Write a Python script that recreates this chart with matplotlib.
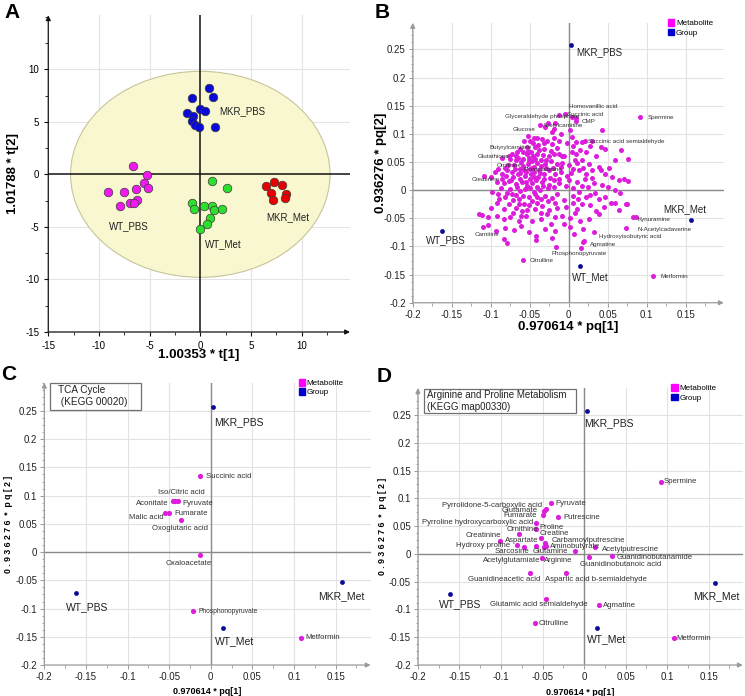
import matplotlib
matplotlib.use('Agg')
import matplotlib.pyplot as plt
from matplotlib.patches import Ellipse, Rectangle, Patch
from matplotlib.ticker import MultipleLocator, FuncFormatter

plt.rcParams['font.family'] = ['Liberation Sans', 'DejaVu Sans']
plt.rcParams['axes.unicode_minus'] = False

# ============================================================
# PANEL A - PCA scores, 1.00353*t[1] vs 1.01788*t[2]
# ============================================================
A_GROUPS = ["MKR_PBS", "WT_PBS", "WT_Met", "MKR_Met"]
A_COLORS = ["#0a0ad8", "#f01af0", "#2ee02e", "#e80000"]

mkr_pbs_t = [(0.82, 8.22), (-0.82, 7.26), (1.22, 7.32), (-0.07, 6.24), (0.49, 6.02),
             (-1.32, 5.86), (-0.72, 5.54), (-0.82, 5.06), (-0.49, 4.71), (-0.16, 4.49),
             (1.48, 4.49)]
wt_pbs_t = [(-6.68, 0.83), (-5.26, -0.06), (-5.53, -0.86), (-5.16, -1.34), (-6.35, -1.40),
            (-9.11, -1.66), (-7.57, -1.66), (-6.25, -2.45), (-6.97, -2.74), (-6.58, -2.74),
            (-7.96, -3.06)]
wt_met_t = [(1.15, -0.61), (2.63, -1.34), (-0.79, -2.68), (-0.59, -3.31), (0.33, -3.06),
            (1.15, -2.99), (1.32, -3.41), (2.14, -3.31), (0.99, -4.11), (0.66, -4.68),
            (-0.07, -5.16)]
mkr_met_t = [(6.51, -1.08), (7.30, -0.76), (8.06, -0.99), (7.01, -1.78), (8.42, -1.88),
             (7.17, -2.42), (8.32, -2.26)]
A_POINTS = [mkr_pbs_t, wt_pbs_t, wt_met_t, mkr_met_t]
A_LABEL_POS = [(1.9, 6.0), (-9.05, -4.9), (0.43, -6.66), (6.5, -4.04)]

# ============================================================
# PANELS B-D - loadings / group scores (pq[1] vs pq[2])
# ============================================================
GROUP_NAMES = ["MKR_PBS", "WT_PBS", "MKR_Met", "WT_Met"]
GROUP_PQ = [(0.003, 0.257), (-0.162, -0.072), (0.157, -0.053), (0.015, -0.134)]

# all metabolites (panel B)
cloud_pts = [
    (-0.013, 0.134), (-0.005, 0.136), (0.004, 0.130), (0.010, 0.129), (0.010, 0.123),
    (-0.026, 0.119), (-0.018, 0.120),
    (-0.037, 0.116), (-0.030, 0.112), (-0.021, 0.103), (-0.010, 0.100), (0.002, 0.106),
    (0.043, 0.107), (-0.019, 0.109),
    (-0.052, 0.097), (-0.044, 0.092), (-0.040, 0.092), (-0.034, 0.091), (-0.028, 0.088),
    (-0.019, 0.093), (-0.012, 0.088), (-0.002, 0.083), (0.004, 0.094), (0.010, 0.085),
    (0.017, 0.085), (0.021, 0.088), (0.030, 0.087), (0.005, 0.079),
    (-0.062, 0.073), (-0.052, 0.070), (-0.048, 0.067), (-0.043, 0.076), (-0.038, 0.071),
    (-0.032, 0.073), (-0.023, 0.069), (-0.019, 0.064), (-0.013, 0.065), (-0.006, 0.061),
    (0.004, 0.067), (0.010, 0.064), (0.015, 0.071), (0.022, 0.067), (0.041, 0.076),
    (0.047, 0.074), (0.067, 0.071), (-0.073, 0.064), (-0.067, 0.061),
    (-0.085, 0.057), (-0.075, 0.055), (-0.068, 0.054), (-0.058, 0.055), (-0.051, 0.058),
    (-0.047, 0.052), (-0.040, 0.049), (-0.036, 0.054), (-0.030, 0.046), (-0.022, 0.051),
    (-0.015, 0.046), (-0.008, 0.049), (0.000, 0.044), (0.011, 0.048), (0.017, 0.054),
    (0.026, 0.046), (0.039, 0.042), (0.060, 0.054), (0.076, 0.055),
    (-0.090, 0.038), (-0.079, 0.035), (-0.073, 0.032), (-0.062, 0.038), (-0.055, 0.033),
    (-0.049, 0.038), (-0.045, 0.032), (-0.038, 0.035), (-0.032, 0.029), (-0.025, 0.035),
    (-0.017, 0.029), (-0.010, 0.032), (-0.002, 0.026), (0.005, 0.038), (0.013, 0.035),
    (0.022, 0.029), (0.030, 0.035), (0.041, 0.036), (0.047, 0.029), (0.056, 0.023),
    (0.071, 0.020), (0.076, 0.017),
    (-0.109, 0.026), (-0.099, 0.023), (-0.092, 0.014), (-0.083, 0.012), (-0.077, 0.017),
    (-0.068, 0.011), (-0.060, 0.014), (-0.053, 0.008), (-0.047, 0.012), (-0.040, 0.006),
    (-0.034, 0.014), (-0.025, 0.010), (-0.019, 0.005), (-0.013, 0.012), (-0.004, 0.008),
    (0.005, 0.004), (0.011, 0.014), (0.017, 0.008), (0.025, 0.005), (0.032, 0.012),
    (0.043, 0.010), (0.059, 0.001), (0.064, 0.018),
    (-0.098, -0.004), (-0.090, -0.007), (-0.081, -0.013), (-0.073, -0.007), (-0.064, -0.016),
    (-0.058, -0.010), (-0.051, -0.013), (-0.043, -0.007), (-0.036, -0.016), (-0.030, -0.010),
    (-0.021, -0.014), (-0.015, -0.007), (-0.006, -0.017), (0.005, -0.010), (0.013, -0.004),
    (0.022, -0.013), (0.028, -0.008), (0.039, -0.016), (0.047, -0.013),
    (-0.100, -0.031), (-0.092, -0.022), (-0.083, -0.034), (-0.077, -0.025), (-0.068, -0.031),
    (-0.060, -0.037), (-0.051, -0.026), (-0.043, -0.034), (-0.034, -0.028), (-0.025, -0.035),
    (-0.015, -0.031), (0.005, -0.023), (0.011, -0.033), (0.017, -0.025), (0.028, -0.026),
    (0.035, -0.037), (0.054, -0.022), (0.060, -0.022), (0.064, -0.035), (0.073, -0.025),
    (0.075, -0.024),
    (-0.115, -0.043), (-0.111, -0.044), (-0.103, -0.048), (-0.092, -0.045), (-0.083, -0.051),
    (-0.075, -0.047), (-0.064, -0.054), (-0.055, -0.045), (-0.047, -0.054), (-0.036, -0.051),
    (-0.028, -0.042), (-0.018, -0.048), (-0.008, -0.045), (0.002, -0.050), (0.015, -0.054),
    (0.026, -0.051), (0.039, -0.042), (0.082, -0.047), (0.086, -0.048),
    (-0.110, -0.066), (-0.103, -0.061), (-0.093, -0.072), (-0.081, -0.067), (-0.070, -0.071),
    (-0.061, -0.063), (-0.051, -0.075), (-0.042, -0.081), (-0.030, -0.069), (-0.018, -0.072),
    (0.002, -0.066), (0.019, -0.069), (0.032, -0.075), (0.074, -0.068),
    (-0.083, -0.087), (-0.079, -0.093), (-0.042, -0.089), (-0.021, -0.085), (0.007, -0.078),
    (0.020, -0.090), (0.018, -0.092),
    (-0.016, -0.101), (0.016, -0.103), (-0.059, -0.124),
    (0.092, 0.130), (0.108, -0.152),
    (-0.070, 0.045), (-0.065, 0.028), (-0.062, 0.020), (-0.058, 0.043), (-0.056, 0.025),
    (-0.054, 0.064), (-0.052, 0.046), (-0.050, 0.020), (-0.048, 0.028), (-0.046, 0.060),
    (-0.044, 0.042), (-0.042, 0.018), (-0.041, 0.064), (-0.039, 0.024), (-0.037, 0.001),
    (-0.035, 0.043), (-0.033, 0.062), (-0.031, 0.019), (-0.029, 0.054), (-0.027, 0.003),
    (-0.056, 0.002), (-0.062, -0.002), (-0.066, 0.005), (-0.071, 0.024), (-0.075, 0.002),
    (-0.078, 0.045), (-0.080, 0.026), (-0.086, 0.028), (-0.087, 0.004), (-0.095, 0.032),
    (-0.057, -0.025), (-0.047, -0.020), (-0.040, -0.022), (-0.064, -0.024), (-0.071, -0.018),
    (-0.054, 0.076), (-0.046, 0.083), (-0.057, 0.087), (-0.061, 0.050), (-0.066, 0.067),
    (-0.049, 0.003), (-0.044, -0.003), (-0.024, 0.022), (-0.020, 0.040), (-0.012, 0.020),
    (-0.008, 0.060), (0.000, 0.018), (0.008, 0.053), (-0.003, -0.030), (0.008, -0.040),
    (0.021, 0.020), (0.030, 0.022), (0.034, -0.005), (0.045, -0.030), (0.050, 0.005),
    (0.052, 0.040), (0.066, -0.005), (0.035, 0.060), (0.028, 0.078),
    (-0.089, -0.015), (-0.085, 0.020), (-0.082, 0.040), (-0.079, -0.005), (-0.076, 0.060),
    (-0.074, 0.018), (-0.072, -0.040), (-0.069, 0.038), (-0.067, -0.008), (-0.065, 0.058),
    (-0.063, 0.031), (-0.061, -0.045), (-0.059, 0.068), (-0.057, 0.035), (-0.055, 0.014),
    (-0.053, -0.035), (-0.051, 0.052), (-0.049, 0.088), (-0.047, 0.040), (-0.045, 0.024),
    (-0.043, 0.055), (-0.041, -0.012), (-0.039, 0.080), (-0.037, 0.030), (-0.035, -0.040),
    (-0.033, 0.008), (-0.031, 0.084), (-0.029, 0.040), (-0.027, -0.020), (-0.025, 0.060),
    (-0.023, -0.060), (-0.021, 0.082), (-0.019, 0.018), (-0.017, -0.022), (-0.015, 0.075),
    (-0.010, 0.042), (-0.006, -0.060), (0.003, 0.030), (0.012, -0.015), (0.018, 0.040),
]

# TCA cycle metabolites (panel C)
tca_pts = {
    "Succinic acid": (-0.013, 0.134),
    "Aconitate": (-0.046, 0.091),
    "Iso/Citric acid": (-0.043, 0.091),
    "Pyruvate": (-0.040, 0.091),
    "Malic acid": (-0.055, 0.070),
    "Fumarate": (-0.050, 0.070),
    "Oxoglutaric acid": (-0.036, 0.057),
    "Oxaloacetate": (-0.013, -0.005),
    "Phosphonopyruvate": (-0.021, -0.104),
    "Metformin": (0.108, -0.152),
}

# Arginine and proline metabolites (panel D)
arg_pts = {
    "Pyrrolidone-5-carboxylic acid": (-0.0455, 0.080),
    "Pyruvate": (-0.040, 0.091),
    "Glutamate": (-0.048, 0.078),
    "Fumarate": (-0.050, 0.070),
    "Putrescine": (-0.032, 0.066),
    "Pyrroline hydroxycarboxylic acid": (-0.0575, 0.055),
    "Proline": (-0.058, 0.045),
    "Ornithine": (-0.078, 0.035),
    "Creatine": (-0.0515, 0.029),
    "Creatinine": (-0.1017, 0.024),
    "Aspartate": (-0.0475, 0.019),
    "Aminobutyrate": (-0.0455, 0.015),
    "Acetylglutamiate": (-0.0483, 0.012),
    "Glutamine": (-0.0575, 0.0148),
    "Hydroxy proline": (-0.081, 0.016),
    "Sarcosine": (-0.0724, 0.0119),
    "Carbamoylputrescine": (-0.0106, 0.0052),
    "Acetylputrescine": (0.0128, 0.0119),
    "Arginine": (-0.0507, -0.0068),
    "Guanidinobutanoic acid": (0.0055, -0.005),
    "Guanidinobutanamide": (0.0336, -0.0038),
    "Guanidineacetic acid": (-0.0652, -0.035),
    "Aspartic acid b-semialdehyde": (-0.0214, -0.0338),
    "Glutamic acid semialdehyde": (-0.0455, -0.0812),
    "Agmatine": (0.018, -0.092),
    "Citrulline": (-0.059, -0.124),
    "Spermine": (0.092, 0.130),
    "Metformin": (0.108, -0.152),
}

MAGENTA = "#dc1edc"
NAVY = "#0b0b9a"


def arrow_axes(ax, color, lw):
    for s in ax.spines.values():
        s.set_visible(False)
    kw = dict(arrowstyle='-|>', color=color, lw=lw, shrinkA=0, shrinkB=0, mutation_scale=7)
    ax.annotate('', xy=(1, 0), xytext=(0, 0), xycoords='axes fraction',
                arrowprops=kw, annotation_clip=False)
    ax.annotate('', xy=(0, 1), xytext=(0, 0), xycoords='axes fraction',
                arrowprops=kw, annotation_clip=False)


fmt = FuncFormatter(lambda v, p: "%g" % round(v, 3))

fig = plt.figure(figsize=(7.45, 6.96), dpi=100)

# ---------------- Panel A ----------------
ax = fig.add_axes([0.0648, 0.523, 0.405, 0.455])
ax.set_xlim(-15, 14.77)
ax.set_ylim(-15, 15.13)
ax.add_patch(Ellipse((0, 0), 25.6, 19.6, fc="#f8f7cf", ec="#c8c49a", lw=0.8, zorder=1))
for v in [-10, -5, 5, 10]:
    ax.axhline(v, color="#e4e4e4", lw=0.8, zorder=0.5)
    ax.axvline(v, color="#e4e4e4", lw=0.8, zorder=0.5)
ax.axhline(0, color="#111111", lw=1.1, zorder=2)
ax.axvline(0, color="#111111", lw=1.1, zorder=2)
for pts, col, name, pos in zip(A_POINTS, A_COLORS, A_GROUPS, A_LABEL_POS):
    xs, ys = zip(*pts)
    ax.scatter(xs, ys, s=38, c=col, edgecolors="#3a3a3a", linewidths=0.5, zorder=3)
    ax.text(pos[0], pos[1], name, fontsize=7, va='center', ha='left', color="#222222", zorder=4)
arrow_axes(ax, "#111111", 0.9)
ax.set_xticks([-15, -10, -5, 0, 5, 10])
ax.set_yticks([-15, -10, -5, 0, 5, 10])
ax.xaxis.set_minor_locator(MultipleLocator(2.5))
ax.yaxis.set_minor_locator(MultipleLocator(2.5))
ax.tick_params(which='major', direction='out', length=3, width=0.8, labelsize=7, color="#111111")
ax.tick_params(which='minor', direction='out', length=2, width=0.6, color="#111111")
ax.set_xlabel("1.00353 * t[1]", fontsize=9.5, fontweight='bold')
ax.set_ylabel("1.01788 * t[2]", fontsize=9.5, fontweight='bold')
ax.xaxis.set_label_coords(0.5, -0.055)
ax.yaxis.set_label_coords(-0.097, 0.5)


# ---------------- PQ panels helper ----------------
def pq_panel(rect, xmax, ymax, leg_x):
    ax = fig.add_axes(rect)
    ax.set_xlim(-0.2, xmax)
    ax.set_ylim(-0.2, ymax)
    ticks_x = [-0.2, -0.15, -0.1, -0.05, 0, 0.05, 0.1, 0.15]
    ticks_y = [-0.2, -0.15, -0.1, -0.05, 0, 0.05, 0.1, 0.15, 0.2, 0.25]
    ax.set_xticks(ticks_x)
    ax.set_yticks(ticks_y)
    ax.xaxis.set_major_formatter(fmt)
    ax.yaxis.set_major_formatter(fmt)
    ax.xaxis.set_minor_locator(MultipleLocator(0.025))
    ax.yaxis.set_minor_locator(MultipleLocator(0.0125))
    ax.grid(True, color="#e2e2e2", lw=0.8)
    ax.set_axisbelow(True)
    ax.axhline(0, color="#8a8a8a", lw=1.0, zorder=1)
    ax.axvline(0, color="#8a8a8a", lw=1.0, zorder=1)
    arrow_axes(ax, "#9a9a9a", 0.9)
    ax.tick_params(which='major', direction='out', length=3, width=0.7, labelsize=7,
                   color="#9a9a9a", labelcolor="#222222", pad=2)
    ax.tick_params(which='minor', direction='out', length=1.8, width=0.6, color="#9a9a9a")
    ax.legend(handles=[Patch(fc="#ff00ff", ec="#ff00ff", label="Metabolite"),
                       Patch(fc="#0000cc", ec="#0000cc", label="Group")],
              loc='upper left', bbox_to_anchor=(leg_x, 1.025), frameon=False,
              fontsize=5.8, handlelength=0.8, handleheight=0.9, handletextpad=0.2,
              labelspacing=0.15, borderaxespad=0)
    return ax


def draw_groups(ax, label_pos, size):
    gx, gy = zip(*GROUP_PQ)
    ax.scatter(gx, gy, s=12, c=NAVY, zorder=4, linewidths=0)
    for name, pos in zip(GROUP_NAMES, label_pos):
        ax.text(pos[0], pos[1], name, fontsize=size, ha='left', va='center', color="#222222")


# ---------------- Panel B ----------------
ax = pq_panel([0.554, 0.565, 0.4175, 0.402], 0.199, 0.297, 0.81)
cx, cy = zip(*cloud_pts)
ax.scatter(cx, cy, s=13, c=MAGENTA, linewidths=0, zorder=3)
b_labels = [
    ("Homovanillic acid", 0.000, 0.148, 'left'), ("Succinic acid", -0.002, 0.135, 'left'),
    ("Glyceraldehyde phosphate", -0.034, 0.131, 'center'), ("CMP", 0.0165, 0.122, 'left'),
    ("Acetylcarnitine", -0.007, 0.114, 'center'), ("Glucose", -0.057, 0.107, 'center'),
    ("Succinic acid semialdehyde", 0.025, 0.087, 'left'), ("Spermine", 0.102, 0.129, 'left'),
    ("Butyrylcarnitine", -0.102, 0.075, 'left'), ("Glutathione", -0.117, 0.059, 'left'),
    ("Ornithine", -0.092, 0.044, 'left'), ("Phenylalanine", -0.0575, 0.0375, 'left'),
    ("Creatinine", -0.124, 0.0185, 'left'), ("Carnitine", -0.12, -0.079, 'left'),
    ("Citrulline", -0.050, -0.125, 'left'), ("Phosphonopyruvate", -0.022, -0.112, 'left'),
    ("Agmatine", 0.028, -0.096, 'left'), ("Hydroxyisobutyric acid", 0.039, -0.0815, 'left'),
    ("N-Acetylcadaverine", 0.088, -0.0696, 'left'), ("Kynuramine", 0.088, -0.0524, 'left'),
    ("Metformin", 0.118, -0.153, 'left'),
]
for t, x, y, ha in b_labels:
    ax.text(x, y, t, fontsize=4.5, ha=ha, va='center', color="#333333", zorder=5)
draw_groups(ax, [(0.0096, 0.245), (-0.1825, -0.0896), (0.122, -0.0336), (0.0037, -0.154)], 7)
ax.set_xlabel("0.970614 * pq[1]", fontsize=9.5, fontweight='bold')
ax.set_ylabel("0.936276 * pq[2]", fontsize=9.5, fontweight='bold')
ax.xaxis.set_label_coords(0.5, -0.064)
ax.yaxis.set_label_coords(-0.083, 0.5)

# ---------------- Panel C ----------------
ax = pq_panel([0.0595, 0.0445, 0.438, 0.4056], 0.192, 0.3, 0.77)
tx, ty = zip(*tca_pts.values())
ax.scatter(tx, ty, s=14, c=MAGENTA, linewidths=0, zorder=3)
c_labels = [
    ("Succinic acid", -0.006, 0.134, 'left'), ("Iso/Citric acid", -0.035, 0.105, 'center'),
    ("Aconitate", -0.051, 0.0866, 'right'), ("Pyruvate", -0.034, 0.0866, 'left'),
    ("Fumarate", -0.044, 0.069, 'left'), ("Malic acid", -0.0565, 0.061, 'right'),
    ("Oxoglutaric acid", -0.037, 0.042, 'center'), ("Oxaloacetate", -0.027, -0.0205, 'center'),
]
for t, x, y, ha in c_labels:
    ax.text(x, y, t, fontsize=5.6, ha=ha, va='center', color="#333333", zorder=5)
ax.text(-0.0144, -0.105, "Phosphonopyruvate", fontsize=4.8, ha='left', va='center', color="#333333")
ax.text(0.1138, -0.152, "Metformin", fontsize=5.6, ha='left', va='center', color="#333333")
draw_groups(ax, [(0.004, 0.23), (-0.174, -0.097), (0.129, -0.078), (0.005, -0.157)], 7.5)
ax.add_patch(Rectangle((0.0175, 0.903), 0.28, 0.097, transform=ax.transAxes, fill=False,
                       ec="#707070", lw=0.9, clip_on=False))
ax.text(0.043, 0.974, "TCA Cycle", transform=ax.transAxes, fontsize=7.2, va='center', color="#222222")
ax.text(0.043, 0.933, " (KEGG 00020)", transform=ax.transAxes, fontsize=7.2, va='center', color="#222222")
ax.set_xlabel("0.970614 * pq[1]", fontsize=6.5, fontweight='bold')
ax.set_ylabel("0 . 9 3 6 2 7 6  *  p q [ 2 ]", fontsize=6.3, fontweight='bold')
ax.xaxis.set_label_coords(0.5, -0.078)
ax.yaxis.set_label_coords(-0.096, 0.5)

# ---------------- Panel D ----------------
ax = pq_panel([0.561, 0.0445, 0.436, 0.398], 0.191, 0.2986, 0.77)
dx, dy = zip(*arg_pts.values())
ax.scatter(dx, dy, s=14, c=MAGENTA, linewidths=0, zorder=3)
d_labels = [
    ("Pyrrolidone-5-carboxylic acid", -0.0506, 0.088, 'right'), ("Pyruvate", -0.034, 0.091, 'left'),
    ("Glutamate", -0.0555, 0.079, 'right'), ("Fumarate", -0.0567, 0.0695, 'right'),
    ("Putrescine", -0.025, 0.066, 'left'), ("Pyrroline hydroxycarboxylic acid", -0.0615, 0.0569, 'right'),
    ("Proline", -0.0535, 0.0479, 'left'), ("Ornithine", -0.0555, 0.0443, 'right'),
    ("Creatine", -0.0535, 0.037, 'left'), ("Creatinine", -0.0997, 0.034, 'right'),
    ("Aspartate", -0.0547, 0.025, 'right'), ("Carbamoylputrescine", -0.0387, 0.0238, 'left'),
    ("Hydroxy proline", -0.0896, 0.016, 'right'), ("Aminobutyrate", -0.0414, 0.013, 'left'),
    ("Acetylputrescine", 0.0216, 0.0083, 'left'), ("Sarcosine", -0.0655, 0.004, 'right'),
    ("Glutamine", -0.0407, 0.0045, 'center'), ("Acetylglutamiate", -0.0523, -0.011, 'right'),
    ("Arginine", -0.0483, -0.0114, 'left'), ("Guanidinobutanamide", 0.0388, -0.0068, 'left'),
    ("Guanidinobutanoic acid", 0.0436, -0.0187, 'center'),
    ("Guanidineacetic acid", -0.0962, -0.0457, 'center'),
    ("Aspartic acid b-semialdehyde", 0.0143, -0.0457, 'center'),
    ("Glutamic acid semialdehyde", -0.0547, -0.0907, 'center'),
    ("Agmatine", 0.0228, -0.092, 'left'), ("Citrulline", -0.0547, -0.125, 'left'),
    ("Spermine", 0.0959, 0.13, 'left'), ("Metformin", 0.1107, -0.152, 'left'),
]
for t, x, y, ha in d_labels:
    ax.text(x, y, t, fontsize=5.6, ha=ha, va='center', color="#333333", zorder=5)
draw_groups(ax, [(0.0003, 0.236), (-0.175, -0.0907), (0.1308, -0.0758), (0.0035, -0.1537)], 7.5)
ax.add_patch(Rectangle((0.0175, 0.909), 0.47, 0.088, transform=ax.transAxes, fill=False,
                       ec="#707070", lw=0.9, clip_on=False))
ax.text(0.028, 0.975, "Arginine and Proline Metabolism", transform=ax.transAxes, fontsize=7,
        va='center', color="#222222")
ax.text(0.028, 0.933, "(KEGG map00330)", transform=ax.transAxes, fontsize=7,
        va='center', color="#222222")
ax.set_xlabel("0.970614 * pq[1]", fontsize=6.5, fontweight='bold')
ax.set_ylabel("0 . 9 3 6 2 7 6  *  p q [ 2 ]", fontsize=6.3, fontweight='bold')
ax.xaxis.set_label_coords(0.5, -0.082)
ax.yaxis.set_label_coords(-0.095, 0.5)

# panel letters
for letter, x, y in [("A", 0.006, 0.995), ("B", 0.503, 0.995), ("C", 0.002, 0.476), ("D", 0.505, 0.472)]:
    fig.text(x, y, letter, fontsize=15, fontweight='bold', va='top', ha='left')

fig.savefig("out.png", dpi=100)
